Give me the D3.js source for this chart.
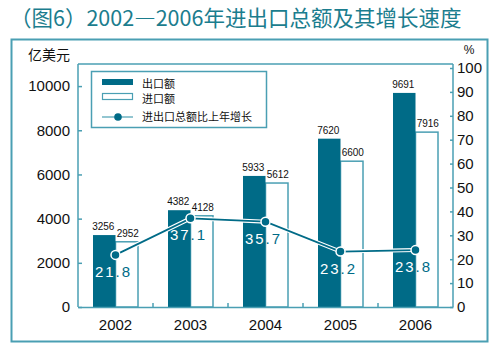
<!DOCTYPE html>
<html lang="zh">
<head>
<meta charset="UTF-8">
<title>2002-2006年进出口总额及其增长速度</title>
<script src="https://d3js.org/d3.v7.min.js"></script>
<style>
  body { margin: 0; background: #fff; }
  svg { font-family: "Liberation Sans", Arial, "Noto Sans CJK SC", sans-serif; }
  .cjk { font-family: "Noto Sans CJK SC", sans-serif; }
</style>
</head>
<body>
<svg id="chart" width="500" height="352"></svg>
<script>
// data
const years = ["2002", "2003", "2004", "2005", "2006"];
const exports = [3256, 4382, 5933, 7620, 9691];
const imports = [2952, 4128, 5612, 6600, 7916];
const growth = [21.8, 37.1, 35.7, 23.2, 23.8];
const leftTicks = [0, 2000, 4000, 6000, 8000, 10000];
const rightTicks = [0, 10, 20, 30, 40, 50, 60, 70, 80, 90, 100];

const dark = "#006b87";
const frame = "#4a9fb3";
const titleColor = "#1b7d8e";

const svg = d3.select("#chart");
const plot = { left: 78, right: 453, top: 64, bottom: 307 };

// title
svg.append("text").attr("class", "cjk")
    .attr("x", 10).attr("y", 26)
    .attr("font-size", 21.5).attr("fill", titleColor)
    .text("（图6）2002—2006年进出口总额及其增长速度");

// outer frame
svg.append("rect")
    .attr("x", 11.5).attr("y", 39.5).attr("width", 476).attr("height", 302)
    .attr("fill", "none").attr("stroke", frame).attr("stroke-width", 2);

// scales
const x = d3.scaleBand().domain(years)
    .range([plot.left, plot.right]).paddingInner(0.4).paddingOuter(0.2);
const sub = d3.scaleBand().domain(["exp", "imp"]).range([0, x.bandwidth()]);
const yL = d3.scaleLinear().domain([0, 11000]).range([plot.bottom, plot.top]);
const yR = d3.scaleLinear().domain([0, 100]).range([plot.bottom, 68]);

// plot frame top line
svg.append("line")
    .attr("x1", plot.left).attr("x2", plot.right)
    .attr("y1", plot.top).attr("y2", plot.top)
    .attr("stroke", frame).attr("stroke-width", 1.5);

// bars
const g = svg.selectAll(".yr").data(years).enter().append("g")
    .attr("transform", d => `translate(${x(d)},0)`);

g.append("rect")
    .attr("x", sub("imp"))
    .attr("y", (d, i) => yL(imports[i]))
    .attr("width", sub.bandwidth())
    .attr("height", (d, i) => plot.bottom - yL(imports[i]))
    .attr("fill", "#fff").attr("stroke", frame).attr("stroke-width", 1.5);

g.append("rect")
    .attr("x", sub("exp"))
    .attr("y", (d, i) => yL(exports[i]))
    .attr("width", sub.bandwidth())
    .attr("height", (d, i) => plot.bottom - yL(exports[i]))
    .attr("fill", dark);

// bar values
g.append("text")
    .attr("x", sub("exp") + sub.bandwidth() / 2 - 1)
    .attr("y", (d, i) => yL(exports[i]) - 5)
    .attr("text-anchor", "middle").attr("font-size", 10).attr("fill", "#111")
    .text((d, i) => exports[i]);
g.append("text")
    .attr("x", sub("imp") + sub.bandwidth() / 2 + 1)
    .attr("y", (d, i) => yL(imports[i]) - 5)
    .attr("text-anchor", "middle").attr("font-size", 10).attr("fill", "#111")
    .text((d, i) => imports[i]);

// axes
const axisL = svg.append("g")
    .attr("transform", `translate(${plot.left},0)`)
    .call(d3.axisRight(yL).tickValues(leftTicks).tickSize(4).tickFormat(d3.format("d")));
axisL.selectAll("text").attr("x", -8).attr("text-anchor", "end")
    .attr("font-size", 15).attr("fill", "#111");
axisL.selectAll(".domain").remove();
axisL.append("line").attr("y1", plot.top).attr("y2", plot.bottom)
    .attr("stroke", frame).attr("stroke-width", 1.5);

const axisR = svg.append("g")
    .attr("transform", `translate(${plot.right},0)`)
    .call(d3.axisLeft(yR).tickValues(rightTicks).tickSize(3));
axisR.selectAll("text").attr("x", 4).attr("text-anchor", "start")
    .attr("font-size", 15).attr("fill", "#111");
axisR.selectAll(".domain").remove();
axisR.append("line").attr("y1", plot.top).attr("y2", plot.bottom)
    .attr("stroke", frame).attr("stroke-width", 1.5);

const axisB = svg.append("g")
    .attr("transform", `translate(0,${plot.bottom})`)
    .call(d3.axisBottom(x).tickSize(0).tickPadding(12));
axisB.selectAll("text").attr("font-size", 15).attr("fill", "#111");
axisB.select(".domain").attr("stroke", frame).attr("stroke-width", 1.5);
// small ticks between years
axisB.selectAll(".sep").data(years.slice(1)).enter().append("line")
    .attr("x1", d => x(d) - x.step() * x.paddingInner() / 2)
    .attr("x2", d => x(d) - x.step() * x.paddingInner() / 2)
    .attr("y1", 0).attr("y2", -4)
    .attr("stroke", frame).attr("stroke-width", 1.5);

svg.selectAll(".tick line").attr("stroke", frame).attr("stroke-width", 1.5);

// unit labels
svg.append("text").attr("class", "cjk")
    .attr("x", 28).attr("y", 60).attr("font-size", 14).attr("fill", "#111")
    .text("亿美元");
svg.append("text")
    .attr("x", 469).attr("y", 54).attr("text-anchor", "middle")
    .attr("font-size", 12).attr("fill", "#111").text("%");

// growth line
const cx = d => x(d) + x.bandwidth() / 2;
const line = d3.line().x((d, i) => cx(years[i])).y(d => yR(d));
svg.append("path").datum(growth).attr("d", line)
    .attr("fill", "none").attr("stroke", "#fff").attr("stroke-width", 4);
svg.append("path").datum(growth).attr("d", line)
    .attr("fill", "none").attr("stroke", dark).attr("stroke-width", 1.8);
svg.selectAll(".pt").data(growth).enter().append("circle")
    .attr("cx", (d, i) => cx(years[i])).attr("cy", d => yR(d)).attr("r", 4.5)
    .attr("fill", dark).attr("stroke", "#fff").attr("stroke-width", 1.5);

// growth labels: teal on white, white over dark bars
const defs = svg.append("defs");
years.forEach((yr, i) => {
    defs.append("clipPath").attr("id", "clip" + i).append("rect")
        .attr("x", x(yr) + sub("exp")).attr("y", yL(exports[i]))
        .attr("width", sub.bandwidth()).attr("height", plot.bottom - yL(exports[i]));
});
const lbl = (sel, color) => sel
    .attr("x", (d, i) => cx(years[i]) - 2)
    .attr("y", d => yR(d) + 22)
    .attr("text-anchor", "middle").attr("font-size", 15)
    .attr("letter-spacing", 2).attr("fill", color)
    .text(d => d.toFixed(1));
lbl(svg.selectAll(".gl").data(growth).enter().append("text"), dark);
lbl(svg.selectAll(".gw").data(growth).enter().append("text"), "#fff")
    .attr("clip-path", (d, i) => `url(#clip${i})`);

// legend
const lg = svg.append("g");
lg.append("rect").attr("x", 91.5).attr("y", 71.5).attr("width", 175).attr("height", 56)
    .attr("fill", "#fff").attr("stroke", frame).attr("stroke-width", 1.5);
lg.append("rect").attr("x", 102).attr("y", 79).attr("width", 31).attr("height", 6).attr("fill", dark);
lg.append("rect").attr("x", 102.5).attr("y", 93.5).attr("width", 30).attr("height", 6)
    .attr("fill", "#fff").attr("stroke", frame).attr("stroke-width", 1.2);
lg.append("line").attr("x1", 102).attr("x2", 133).attr("y1", 117).attr("y2", 117)
    .attr("stroke", frame).attr("stroke-width", 1.2);
lg.append("circle").attr("cx", 118).attr("cy", 117).attr("r", 3.8).attr("fill", dark);
const legendText = ["出口额", "进口额", "进出口总额比上年增长"];
lg.selectAll(".lt").data(legendText).enter().append("text").attr("class", "cjk")
    .attr("x", 142).attr("y", (d, i) => [88, 103, 121][i])
    .attr("font-size", 11).attr("fill", "#111")
    .text(d => d);
</script>
</body>
</html>
